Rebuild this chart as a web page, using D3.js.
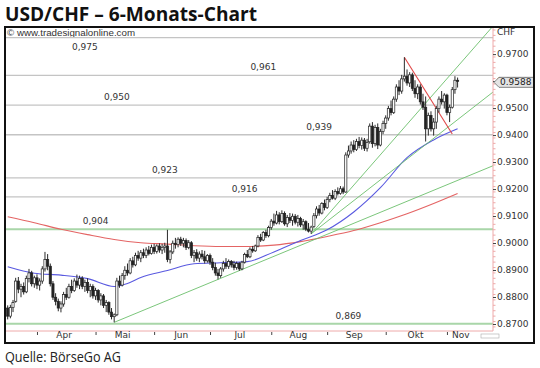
<!DOCTYPE html>
<html>
<head>
<meta charset="utf-8">
<script src="https://cdn.jsdelivr.net/npm/d3@7"></script>
<style>
  body { margin: 0; background: #fff; }
  svg { display: block; }
</style>
</head>
<body>
<svg id="chart" width="540" height="368"></svg>
<script>
// Daily candles, USD/CHF, [open, high, low, close]
const ohlc = [
  [0.8748, 0.8758, 0.8706, 0.8718], [0.8718, 0.8760, 0.8710, 0.8750], [0.8750, 0.8778, 0.8733, 0.8768],
  [0.8773, 0.8860, 0.8768, 0.8848], [0.8848, 0.8863, 0.8803, 0.8818], [0.8818, 0.8838, 0.8788, 0.8828],
  [0.8828, 0.8843, 0.8798, 0.8808], [0.8808, 0.8868, 0.8803, 0.8858], [0.8858, 0.8893, 0.8843, 0.8878],
  [0.8878, 0.8886, 0.8828, 0.8838], [0.8838, 0.8868, 0.8823, 0.8860], [0.8860, 0.8873, 0.8818, 0.8833],
  [0.8833, 0.8858, 0.8813, 0.8848], [0.8848, 0.8903, 0.8838, 0.8893], [0.8893, 0.8956, 0.8883, 0.8928],
  [0.8928, 0.8948, 0.8888, 0.8903], [0.8903, 0.8913, 0.8828, 0.8838], [0.8838, 0.8848, 0.8778, 0.8788],
  [0.8788, 0.8803, 0.8758, 0.8773], [0.8773, 0.8783, 0.8736, 0.8748], [0.8748, 0.8773, 0.8732, 0.8763],
  [0.8763, 0.8808, 0.8753, 0.8798], [0.8798, 0.8823, 0.8778, 0.8788], [0.8788, 0.8838, 0.8783, 0.8828],
  [0.8828, 0.8853, 0.8803, 0.8813], [0.8813, 0.8858, 0.8808, 0.8848], [0.8848, 0.8872, 0.8823, 0.8833],
  [0.8833, 0.8868, 0.8818, 0.8858], [0.8858, 0.8866, 0.8818, 0.8828], [0.8828, 0.8853, 0.8808, 0.8843],
  [0.8843, 0.8858, 0.8803, 0.8813], [0.8813, 0.8838, 0.8788, 0.8828], [0.8828, 0.8836, 0.8783, 0.8793],
  [0.8793, 0.8823, 0.8778, 0.8813], [0.8813, 0.8818, 0.8768, 0.8778], [0.8778, 0.8803, 0.8758, 0.8793],
  [0.8793, 0.8800, 0.8748, 0.8758], [0.8758, 0.8778, 0.8733, 0.8768], [0.8768, 0.8773, 0.8723, 0.8733],
  [0.8733, 0.8748, 0.8706, 0.8716], [0.8716, 0.8728, 0.8695, 0.8723], [0.8723, 0.8860, 0.8718, 0.8848],
  [0.8848, 0.8868, 0.8823, 0.8833], [0.8833, 0.8878, 0.8828, 0.8868], [0.8868, 0.8903, 0.8853, 0.8888],
  [0.8888, 0.8913, 0.8868, 0.8878], [0.8878, 0.8933, 0.8873, 0.8923], [0.8923, 0.8938, 0.8898, 0.8908],
  [0.8908, 0.8953, 0.8903, 0.8943], [0.8943, 0.8960, 0.8923, 0.8933], [0.8933, 0.8963, 0.8918, 0.8953],
  [0.8953, 0.8968, 0.8933, 0.8943], [0.8943, 0.8973, 0.8933, 0.8963], [0.8963, 0.8978, 0.8943, 0.8950],
  [0.8950, 0.8983, 0.8946, 0.8973], [0.8973, 0.8986, 0.8948, 0.8958], [0.8958, 0.8984, 0.8950, 0.8978],
  [0.8978, 0.8988, 0.8953, 0.8963], [0.8963, 0.8986, 0.8948, 0.8973], [0.8973, 0.8990, 0.8953, 0.8978],
  [0.8978, 0.9038, 0.8918, 0.8928], [0.8928, 0.8963, 0.8913, 0.8956], [0.8956, 0.8998, 0.8948, 0.8988],
  [0.8988, 0.9008, 0.8968, 0.8983], [0.8983, 0.9010, 0.8973, 0.9003], [0.9003, 0.9012, 0.8978, 0.8988],
  [0.8988, 0.9008, 0.8973, 0.8998], [0.8998, 0.9006, 0.8963, 0.8973], [0.8973, 0.9000, 0.8966, 0.8990],
  [0.8990, 0.8996, 0.8933, 0.8943], [0.8943, 0.8963, 0.8918, 0.8953], [0.8953, 0.8966, 0.8923, 0.8933],
  [0.8933, 0.8958, 0.8918, 0.8948], [0.8948, 0.8963, 0.8928, 0.8938], [0.8938, 0.8960, 0.8913, 0.8923],
  [0.8923, 0.8948, 0.8916, 0.8943], [0.8943, 0.8950, 0.8908, 0.8918], [0.8918, 0.8933, 0.8888, 0.8898],
  [0.8898, 0.8916, 0.8868, 0.8878], [0.8878, 0.8893, 0.8854, 0.8868], [0.8868, 0.8900, 0.8860, 0.8893],
  [0.8893, 0.8923, 0.8883, 0.8913], [0.8913, 0.8933, 0.8893, 0.8903], [0.8903, 0.8928, 0.8893, 0.8920],
  [0.8920, 0.8926, 0.8898, 0.8908], [0.8908, 0.8923, 0.8888, 0.8898], [0.8898, 0.8920, 0.8890, 0.8913],
  [0.8913, 0.8918, 0.8886, 0.8893], [0.8893, 0.8923, 0.8888, 0.8918], [0.8918, 0.8953, 0.8913, 0.8946],
  [0.8946, 0.8963, 0.8933, 0.8938], [0.8938, 0.8973, 0.8933, 0.8966], [0.8966, 0.8978, 0.8953, 0.8960],
  [0.8960, 0.8983, 0.8956, 0.8978], [0.8978, 0.9018, 0.8973, 0.9010], [0.9010, 0.9023, 0.8993, 0.9000],
  [0.9000, 0.9033, 0.8996, 0.9028], [0.9028, 0.9038, 0.9008, 0.9016], [0.9016, 0.9053, 0.9010, 0.9046],
  [0.9046, 0.9078, 0.9038, 0.9070], [0.9070, 0.9098, 0.9053, 0.9063], [0.9063, 0.9108, 0.9058, 0.9093],
  [0.9093, 0.9103, 0.9058, 0.9068], [0.9068, 0.9110, 0.9063, 0.9098], [0.9098, 0.9106, 0.9053, 0.9060],
  [0.9060, 0.9093, 0.9048, 0.9083], [0.9083, 0.9100, 0.9063, 0.9073], [0.9073, 0.9098, 0.9053, 0.9088],
  [0.9088, 0.9096, 0.9058, 0.9066], [0.9066, 0.9093, 0.9050, 0.9080], [0.9080, 0.9086, 0.9048, 0.9056],
  [0.9056, 0.9078, 0.9038, 0.9068], [0.9068, 0.9073, 0.9033, 0.9040], [0.9040, 0.9063, 0.9028, 0.9033],
  [0.9033, 0.9053, 0.9023, 0.9048], [0.9050, 0.9100, 0.9045, 0.9090], [0.9090, 0.9125, 0.9080, 0.9115],
  [0.9115, 0.9130, 0.9090, 0.9100], [0.9100, 0.9140, 0.9095, 0.9135], [0.9135, 0.9150, 0.9110, 0.9120],
  [0.9120, 0.9160, 0.9115, 0.9150], [0.9150, 0.9175, 0.9140, 0.9165], [0.9165, 0.9185, 0.9150, 0.9155],
  [0.9155, 0.9188, 0.9148, 0.9180], [0.9180, 0.9195, 0.9165, 0.9172], [0.9172, 0.9200, 0.9168, 0.9190],
  [0.9190, 0.9198, 0.9170, 0.9178], [0.9178, 0.9325, 0.9175, 0.9315], [0.9315, 0.9350, 0.9305, 0.9330],
  [0.9330, 0.9365, 0.9320, 0.9352], [0.9352, 0.9370, 0.9325, 0.9335], [0.9335, 0.9375, 0.9330, 0.9365],
  [0.9365, 0.9382, 0.9340, 0.9350], [0.9350, 0.9380, 0.9335, 0.9370], [0.9370, 0.9378, 0.9330, 0.9340],
  [0.9340, 0.9375, 0.9328, 0.9362], [0.9364, 0.9432, 0.9357, 0.9422], [0.9422, 0.9437, 0.9342, 0.9357],
  [0.9357, 0.9427, 0.9347, 0.9417], [0.9417, 0.9432, 0.9337, 0.9352], [0.9352, 0.9412, 0.9347, 0.9402],
  [0.9402, 0.9442, 0.9392, 0.9432], [0.9432, 0.9462, 0.9412, 0.9452], [0.9452, 0.9497, 0.9442, 0.9487],
  [0.9487, 0.9517, 0.9462, 0.9472], [0.9472, 0.9532, 0.9467, 0.9522], [0.9522, 0.9577, 0.9512, 0.9567],
  [0.9567, 0.9592, 0.9537, 0.9552], [0.9552, 0.9612, 0.9542, 0.9597], [0.9597, 0.9677, 0.9587, 0.9607],
  [0.9607, 0.9632, 0.9572, 0.9582], [0.9582, 0.9622, 0.9567, 0.9612], [0.9612, 0.9620, 0.9552, 0.9562],
  [0.9562, 0.9592, 0.9527, 0.9542], [0.9542, 0.9577, 0.9522, 0.9567], [0.9567, 0.9577, 0.9502, 0.9512],
  [0.9512, 0.9542, 0.9482, 0.9492], [0.9492, 0.9532, 0.9365, 0.9412], [0.9412, 0.9472, 0.9387, 0.9462],
  [0.9462, 0.9477, 0.9402, 0.9412], [0.9412, 0.9452, 0.9387, 0.9437], [0.9437, 0.9497, 0.9412, 0.9487],
  [0.9487, 0.9532, 0.9472, 0.9522], [0.9522, 0.9552, 0.9502, 0.9512], [0.9512, 0.9544, 0.9487, 0.9537],
  [0.9537, 0.9542, 0.9462, 0.9472], [0.9472, 0.9502, 0.9437, 0.9492], [0.9492, 0.9567, 0.9487, 0.9557],
  [0.9557, 0.9607, 0.9542, 0.9592], [0.9592, 0.9602, 0.9565, 0.9588]
];

// moving averages, sampled [candle index, value]
const maSlow = [
  [0, 0.9086], [10, 0.9064], [20, 0.9040], [30, 0.9020], [40, 0.9002], [50, 0.8990],
  [60, 0.8985], [70, 0.8979], [80, 0.8976], [90, 0.8976], [100, 0.8981], [110, 0.8994],
  [120, 0.9013], [130, 0.9035], [140, 0.9064], [150, 0.9097], [160, 0.9135], [169, 0.9172]
];
const maFast = [
  [0, 0.8901], [10, 0.8877], [20, 0.8870], [30, 0.8857], [40, 0.8828], [45, 0.8839],
  [50, 0.8861], [60, 0.8887], [70, 0.8912], [80, 0.8916], [90, 0.8920], [100, 0.8956],
  [110, 0.8998], [120, 0.9038], [130, 0.9104], [140, 0.9194], [150, 0.9305], [160, 0.9371], [169, 0.9412]
];

// trend lines: two anchor points each [candle index, value]
const upTrends = [
  [[40, 0.8695], [169, 0.9221]],
  [[114, 0.9023], [181, 0.9778]],
  [[114, 0.9023], [169, 0.9446]]
];
const downTrend = [[149, 0.9677], [167, 0.9393]];

// horizontal levels
const levelValues = [0.975, 0.961, 0.950, 0.939, 0.923, 0.916, 0.904, 0.869];
const levelGreen = [0.904, 0.869];
const levelLabelIdx = [29, 96, 41, 117, 59, 89, 33, 128];

// x axis
const monthNames = ["Apr", "Mai", "Jun", "Jul", "Aug", "Sep", "Okt", "Nov"];
const monthStartIdx = [11, 33, 55, 76, 99, 120, 142, 165];
const monthLabelIdx = [21, 43, 65, 87, 109, 130, 153, 170];

const svg = d3.select("#chart");
const plot = { left: 6, right: 493, top: 28, bottom: 331 };

const x = d3.scaleLinear().domain([0, ohlc.length - 1]).range([7.7, 457.6]);
const y = d3.scaleLinear().domain([0.87, 0.97]).range([321.0, 51.1]);

const de = d3.formatLocale({ decimal: ",", thousands: ".", grouping: [3], currency: ["", "€"] });
const fmtLevel = de.format(".3f");
const fmtAxis = d3.format(".4f");

// title + source
svg.append("text")
  .attr("x", 5).attr("y", 21)
  .attr("font-family", "Open Sans, sans-serif").attr("font-weight", 700).attr("font-size", 19)
  .attr("textLength", 252).attr("lengthAdjust", "spacingAndGlyphs")
  .attr("fill", "#111")
  .text("USD/CHF – 6-Monats-Chart");

svg.append("text")
  .attr("x", 5).attr("y", 362)
  .attr("font-family", "Open Sans, sans-serif").attr("font-size", 14.5)
  .attr("textLength", 116).attr("lengthAdjust", "spacingAndGlyphs")
  .attr("fill", "#222")
  .text("Quelle: BörseGo AG");

svg.append("clipPath").attr("id", "plotClip")
  .append("rect")
  .attr("x", plot.left).attr("y", plot.top)
  .attr("width", plot.right - plot.left).attr("height", plot.bottom - plot.top);

svg.append("text")
  .attr("x", 7).attr("y", 36)
  .attr("font-family", "Liberation Sans, Arial, sans-serif").attr("font-size", 9)
  .attr("textLength", 128).attr("lengthAdjust", "spacingAndGlyphs")
  .attr("fill", "#333")
  .text("© www.tradesignalonline.com");

const g = svg.append("g").attr("clip-path", "url(#plotClip)");

// horizontal levels
g.selectAll("line.level")
  .data(levelValues)
  .join("line")
  .attr("class", "level")
  .attr("x1", plot.left).attr("x2", plot.right)
  .attr("y1", d => y(d)).attr("y2", d => y(d))
  .attr("stroke", d => levelGreen.includes(d) ? "#a9d6a9" : "#c4c4c4")
  .attr("stroke-width", d => levelGreen.includes(d) ? 2 : 1.3);

g.selectAll("text.level")
  .data(levelValues)
  .join("text")
  .attr("class", "level")
  .attr("x", (d, i) => x(levelLabelIdx[i]))
  .attr("y", d => y(d) - 5 < plot.top + 10 ? y(d) + 12 : y(d) - 5)
  .attr("text-anchor", "middle")
  .attr("font-family", "DejaVu Sans, sans-serif").attr("font-size", 9)
  .attr("fill", "#333")
  .text(d => fmtLevel(d));

// moving averages
const line = d3.line().x(d => x(d[0])).y(d => y(d[1])).curve(d3.curveMonotoneX);
g.append("path").datum(maSlow).attr("d", line)
  .attr("fill", "none").attr("stroke", "#e46464").attr("stroke-width", 1.1);
g.append("path").datum(maFast).attr("d", line)
  .attr("fill", "none").attr("stroke", "#5a5ae0").attr("stroke-width", 1.1);

// trend lines, extended to the right edge
const edgeIdx = x.invert(plot.right);
g.selectAll("line.trend")
  .data(upTrends)
  .join("line")
  .attr("class", "trend")
  .attr("x1", d => x(d[0][0])).attr("y1", d => y(d[0][1]))
  .attr("x2", x(edgeIdx))
  .attr("y2", d => {
    const slope = (d[1][1] - d[0][1]) / (d[1][0] - d[0][0]);
    return y(d[0][1] + slope * (edgeIdx - d[0][0]));
  })
  .attr("stroke", "#6cbf6c").attr("stroke-width", 0.9);

g.append("line")
  .attr("x1", x(downTrend[0][0])).attr("y1", y(downTrend[0][1]))
  .attr("x2", x(downTrend[1][0])).attr("y2", y(downTrend[1][1]))
  .attr("stroke", "#e04848").attr("stroke-width", 1.1);

// candles
const candles = g.selectAll("g.candle")
  .data(ohlc)
  .join("g")
  .attr("class", "candle")
  .attr("transform", (d, i) => `translate(${x(i)},0)`);

candles.append("line")
  .attr("y1", d => y(d[1])).attr("y2", d => y(d[2]))
  .attr("stroke", "#2a2a2a").attr("stroke-width", 1);

candles.append("rect")
  .attr("x", -1.1).attr("width", 2.2)
  .attr("y", d => y(Math.max(d[0], d[3])))
  .attr("height", d => Math.max(1, Math.abs(y(d[0]) - y(d[3]))))
  .attr("fill", d => d[3] >= d[0] ? "#fff" : "#222")
  .attr("stroke", "#222").attr("stroke-width", 0.7);

// axes
svg.append("line")
  .attr("x1", plot.left).attr("x2", plot.right)
  .attr("y1", plot.bottom).attr("y2", plot.bottom)
  .attr("stroke", "#eeaaaa").attr("stroke-width", 1);
svg.append("line")
  .attr("x1", plot.right).attr("x2", plot.right)
  .attr("y1", plot.top).attr("y2", plot.bottom)
  .attr("stroke", "#eeaaaa").attr("stroke-width", 1);

const minorTicks = d3.range(0.868, 0.9781, 0.002).filter(v => y(v) > plot.top && y(v) < plot.bottom);
const yMinor = svg.append("g")
  .attr("transform", `translate(${plot.right},0)`)
  .call(d3.axisRight(y).tickValues(minorTicks).tickSize(2.5).tickFormat(""));
yMinor.select(".domain").remove();
yMinor.selectAll(".tick line").attr("stroke", "#eeaaaa");

const yAxis = svg.append("g")
  .attr("transform", `translate(${plot.right},0)`)
  .call(d3.axisRight(y).ticks(10).tickSize(3).tickPadding(1).tickFormat(fmtAxis));
yAxis.select(".domain").remove();
yAxis.selectAll(".tick line").attr("stroke", "#444").attr("y1", 3).attr("y2", 3);
yAxis.selectAll(".tick text")
  .attr("y", 3)
  .attr("font-family", "DejaVu Sans, sans-serif").attr("font-size", 9).attr("fill", "#333");

svg.append("text")
  .attr("x", 497).attr("y", 35)
  .attr("font-family", "DejaVu Sans, sans-serif").attr("font-size", 9).attr("fill", "#333")
  .text("CHF");

// last price tag
const last = ohlc[ohlc.length - 1][3];
const ty = y(last) + 1;
svg.append("path")
  .attr("d", `M${plot.right + 1},${ty} L${plot.right + 6},${ty - 5} H534 V${ty + 5} H${plot.right + 6} Z`)
  .attr("fill", "#e4e4e4").attr("stroke", "#666").attr("stroke-width", 0.8);
svg.append("text")
  .attr("x", plot.right + 7).attr("y", ty).attr("dy", "0.35em")
  .attr("font-family", "DejaVu Sans, sans-serif").attr("font-size", 9).attr("fill", "#222")
  .text(fmtAxis(last));

const xTicks = svg.append("g")
  .attr("transform", `translate(0,${plot.bottom + 1})`)
  .call(d3.axisBottom(x).tickValues(monthStartIdx).tickSize(3).tickFormat(""));
xTicks.select(".domain").remove();
xTicks.selectAll(".tick line").attr("stroke", "#444");

const xLabels = svg.append("g")
  .attr("transform", `translate(0,${plot.bottom})`)
  .call(d3.axisBottom(x).tickValues(monthLabelIdx).tickSize(0).tickPadding(1)
    .tickFormat((d, i) => monthNames[i]));
xLabels.select(".domain").remove();
xLabels.selectAll(".tick text")
  .attr("font-family", "DejaVu Sans, sans-serif").attr("font-size", 9).attr("fill", "#333");

svg.append("rect")
  .attr("x", 481).attr("y", 334).attr("width", 18).attr("height", 4)
  .attr("fill", "none").attr("stroke", "#aaa").attr("stroke-width", 0.6);

// frame
svg.append("rect")
  .attr("x", 5).attr("y", 27).attr("width", 529).attr("height", 316)
  .attr("fill", "none").attr("stroke", "#111").attr("stroke-width", 2);
</script>
</body>
</html>
